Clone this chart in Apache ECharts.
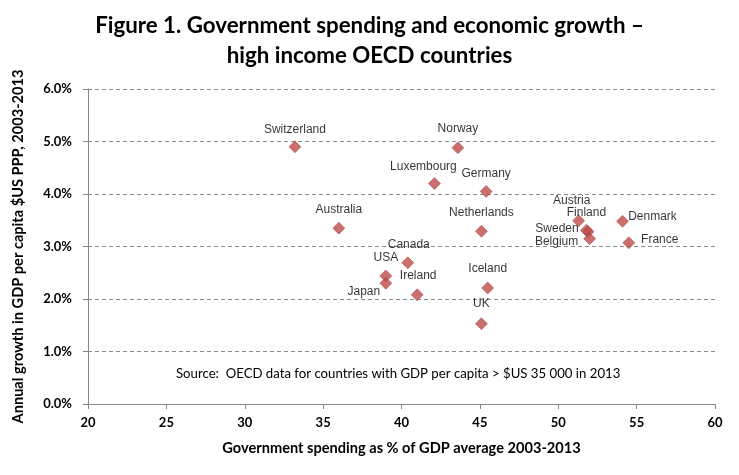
<!DOCTYPE html>
<html>
<head>
<meta charset="utf-8">
<script src="https://cdn.jsdelivr.net/npm/echarts@6/dist/echarts.min.js"></script>
<style>html,body{margin:0;padding:0;background:#fff}#c{width:739px;height:475px}</style>
</head>
<body>
<div id="c"></div>
<script>
// Data
var countries = ["Switzerland","Norway","Luxembourg","Germany","Australia","Netherlands","Austria","Finland","Sweden","Belgium","Denmark","France","Canada","USA","Japan","Ireland","Iceland","UK"];
var govSpending = [33.2, 43.6, 42.1, 45.4, 36.0, 45.1, 51.3, 51.8, 51.9, 52.0, 54.1, 54.5, 40.4, 39.0, 39.0, 41.0, 45.5, 45.1];
var gdpGrowth = [4.90, 4.88, 4.20, 4.05, 3.35, 3.29, 3.49, 3.31, 3.28, 3.15, 3.48, 3.07, 2.69, 2.44, 2.30, 2.08, 2.21, 1.53];
var xTicks = [20, 25, 30, 35, 40, 45, 50, 55, 60];
var yTicks = ["0.0%","1.0%","2.0%","3.0%","4.0%","5.0%","6.0%"];

// Label placement (style, not data): offset of label centre from point
var labelOffsets = {
  "Switzerland":[0,-17],"Norway":[0,-19],"Luxembourg":[-11,-17],"Germany":[0,-18],
  "Australia":[0,-18],"Netherlands":[0,-19],"Austria":[-7,-20],"Finland":[0,-18],
  "Sweden":[-31,-3],"Belgium":[-33,3],"Denmark":[30,-5],"France":[31,-3],
  "Canada":[1,-18],"USA":[0,-18],"Japan":[-22,8],"Ireland":[1,-19],"Iceland":[0,-19],"UK":[0,-20]
};

var points = countries.map(function(n,i){
  return {name:n, value:[govSpending[i], gdpGrowth[i]]};
});

var chart = echarts.init(document.getElementById('c'), null, {renderer:'canvas'});
chart.setOption({
  animation:false,
  backgroundColor:'#fff',
  title:{
    text:'Figure 1. Government spending and economic growth –\nhigh income OECD countries',
    left:'center', top:6,
    textStyle:{fontFamily:'Lato', fontWeight:'bold', fontSize:22.3, lineHeight:30, color:'#000'}
  },
  grid:{left:88, right:24, top:89, bottom:71},
  xAxis:{
    type:'value', min:20, max:60, interval:5,
    name:'Government spending as % of GDP average 2003-2013',
    nameLocation:'middle', nameGap:37,
    nameTextStyle:{fontFamily:'Lato', fontWeight:'bold', fontSize:14.6, color:'#000'},
    axisLine:{show:true, lineStyle:{color:'#868686'}},
    axisTick:{show:true, length:5, lineStyle:{color:'#868686'}},
    axisLabel:{margin:12, fontFamily:'Lato', fontWeight:'bold', fontSize:13, color:'#000',
      formatter:function(v){ return xTicks.indexOf(v)>=0 ? String(v) : ''; }},
    splitLine:{show:false}
  },
  yAxis:{
    type:'value', min:0, max:6, interval:1,
    name:'Annual growth in GDP per capita $US PPP, 2003-2013',
    nameLocation:'middle', nameGap:62,
    nameTextStyle:{fontFamily:'Lato', fontWeight:'bold', fontSize:14.6, color:'#000'},
    axisLine:{show:true, lineStyle:{color:'#868686'}},
    axisTick:{show:true, length:5, lineStyle:{color:'#868686'}},
    axisLabel:{margin:16, fontFamily:'Lato', fontWeight:'bold', fontSize:13, color:'#000',
      formatter:function(v){ return yTicks[Math.round(v)]; }},
    splitLine:{show:true, lineStyle:{color:'#8a8a8a', type:[4,3], width:1}}
  },
  graphic:[{
    type:'text', left:176, top:367,
    style:{text:'Source:  OECD data for countries with GDP per capita > $US 35 000 in 2013',
      font:'13.2px Lato', fill:'#000'}
  }],
  series:[{
    type:'scatter',
    symbol:'diamond', symbolSize:12,
    itemStyle:{color:'#be4b48', borderColor:'#9c3b39', borderWidth:0.6},
    label:{show:true, position:'inside', formatter:'{b}',
      fontFamily:'Liberation Sans, Arial', fontSize:12, color:'#000'},
    labelLayout:function(p){
      var off = labelOffsets[countries[p.dataIndex]] || [0,-18];
      return {dx:off[0], dy:off[1]};
    },
    data:points
  }]
});
</script>
</body>
</html>
